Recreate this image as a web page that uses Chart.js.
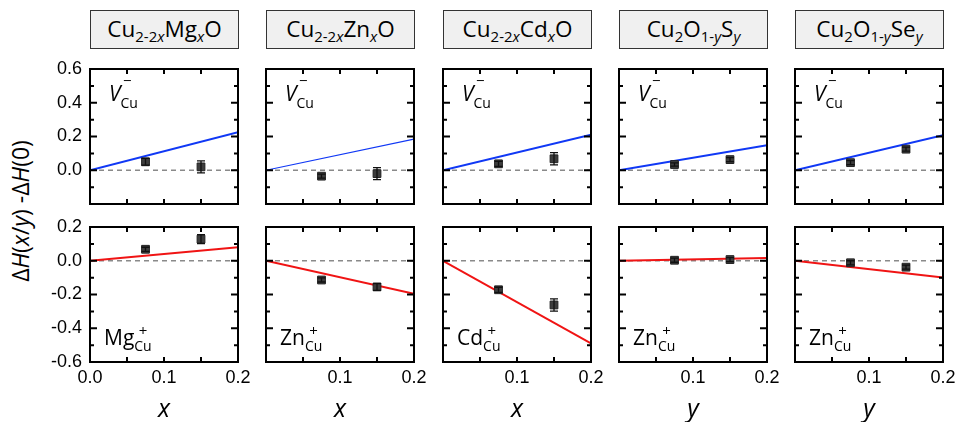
<!DOCTYPE html>
<html>
<head>
<meta charset="utf-8">
<script src="https://cdn.jsdelivr.net/npm/chart.js@4.4.0/dist/chart.umd.min.js"></script>
<style>
  body { margin: 0; width: 959px; height: 422px; background: #fff; position: relative; overflow: hidden; font-family: "Open Sans", sans-serif; color: #000; }
  canvas { position: absolute; }
  .title { position: absolute; top: 10px; width: 149px; height: 39px; box-sizing: border-box; border: 1px solid #333; background: #f0f0f0; font-size: 22.5px; line-height: 36px; text-align: center; white-space: nowrap; }
  .title .sb { font-size: 15px; vertical-align: -5px; line-height: 0; }
  .lbl { position: absolute; font-size: 21px; line-height: 21px; white-space: nowrap; }
  .sub { position: relative; font-size: 14px; line-height: 14px; }
  .sub.neg { vertical-align: -7px; }
  .sub.pos { vertical-align: -6px; }
  .sup { position: absolute; left: 50%; transform: translateX(-50%); font-size: 15px; line-height: 14px; }
  .neg .sup { top: -20px; margin-left: -2px; }
  .pos .sup { top: -13px; }
  .xt { position: absolute; top: 390px; width: 148px; text-align: center; font-size: 25px; font-style: italic; }
  .yt { position: absolute; left: 20px; top: 211px; transform: translate(-50%, -50%) rotate(-90deg); font-size: 23px; white-space: nowrap; }
</style>
</head>
<body>
<div class="yt">Δ<i>H</i>(<i>x</i>/<i>y</i>) -Δ<i>H</i>(0)</div>
<script>
// composition of each column
const titles = [
  'Cu<span class="sb">2-2<i>x</i></span>Mg<span class="sb"><i>x</i></span>O',
  'Cu<span class="sb">2-2<i>x</i></span>Zn<span class="sb"><i>x</i></span>O',
  'Cu<span class="sb">2-2<i>x</i></span>Cd<span class="sb"><i>x</i></span>O',
  'Cu<span class="sb">2</span>O<span class="sb">1-<i>y</i></span>S<span class="sb"><i>y</i></span>',
  'Cu<span class="sb">2</span>O<span class="sb">1-<i>y</i></span>Se<span class="sb"><i>y</i></span>',
];
const xNames = ['x', 'x', 'x', 'y', 'y'];
const dopants = ['Mg', 'Zn', 'Cd', 'Zn', 'Zn'];

// concentrations of the computed supercells and the span of the fitted line
const xPts = [0.075, 0.15];
const xEnds = [0, 0.2];

// V_Cu- row: line value at x = 0.2, points and error bars
const vcuLineEnd = [0.225, 0.185, 0.21, 0.148, 0.208];
const vcuPts = [[0.05, 0.02], [-0.035, -0.02], [0.038, 0.068], [0.034, 0.063], [0.045, 0.125]];
const vcuErr = [[0.02, 0.035], [0.012, 0.035], [0.015, 0.036], [0.01, 0.012], [0.012, 0.012]];

// dopant row
const dopLineEnd = [0.08, -0.195, -0.49, 0.016, -0.1];
const dopPts = [[0.068, 0.128], [-0.114, -0.155], [-0.172, -0.262], [0.003, 0.007], [-0.012, -0.038]];
const dopErr = [[0.012, 0.027], [0.012, 0.02], [0.015, 0.036], [0.012, 0.012], [0.012, 0.012]];

// axis ranges
const yRangeTop = [-0.2, 0.6];
const yRangeBot = [-0.6, 0.2];

const colLeft = [90, 266, 443, 619, 795];
const PW = 148, PH = 135;
const rowTop = [69, 227];
const PAD = 12, YW = 60, XH = 30, PR = 16;

const BLUE = '#1038f5';
const RED = '#f01414';
const tickFont = { family: '"Liberation Sans", Arial, sans-serif', size: 18 };

// inward ticks on all four sides plus the black frame
const framePlugin = {
  id: 'frame',
  afterDatasetsDraw(chart) {
    const { ctx, chartArea: a, scales: { x, y } } = chart;
    ctx.save();
    ctx.strokeStyle = '#000';
    ctx.lineWidth = 2;
    ctx.beginPath();
    for (let i = 0; i <= 4; i++) {
      const px = x.getPixelForValue(x.min + i * 0.05);
      ctx.moveTo(px, a.bottom); ctx.lineTo(px, a.bottom - 5);
      ctx.moveTo(px, a.top); ctx.lineTo(px, a.top + 5);
    }
    const n = Math.round((y.max - y.min) / 0.1);
    for (let j = 0; j <= n; j++) {
      const py = y.getPixelForValue(y.min + j * 0.1);
      const len = j % 2 ? 4 : 7;
      ctx.moveTo(a.left, py); ctx.lineTo(a.left + len, py);
      ctx.moveTo(a.right, py); ctx.lineTo(a.right - len, py);
    }
    ctx.stroke();
    ctx.strokeRect(a.left, a.top, a.width, a.height);
    ctx.restore();
  }
};

// vertical error bars with caps
const errorPlugin = {
  id: 'errbars',
  afterDatasetsDraw(chart) {
    const { ctx, scales: { x, y } } = chart;
    ctx.save();
    ctx.strokeStyle = '#111';
    ctx.lineWidth = 1.3;
    chart.data.datasets.forEach((ds) => {
      if (!ds.errors) return;
      ds.data.forEach((p, i) => {
        const px = x.getPixelForValue(p.x);
        const y1 = y.getPixelForValue(p.y - ds.errors[i]);
        const y2 = y.getPixelForValue(p.y + ds.errors[i]);
        ctx.beginPath();
        ctx.moveTo(px, y1); ctx.lineTo(px, y2);
        ctx.moveTo(px - 4, y1); ctx.lineTo(px + 4, y1);
        ctx.moveTo(px - 4, y2); ctx.lineTo(px + 4, y2);
        ctx.stroke();
      });
    });
    ctx.restore();
  }
};

function makeDatasets(lineEnd, pts, errs, color, width) {
  return [
    {
      data: xPts.map((x, i) => ({ x: x, y: pts[i] })),
      errors: errs,
      showLine: false,
      pointStyle: 'rect',
      pointRadius: 5.5,
      backgroundColor: '#3d3d3d',
      borderColor: '#222',
      borderWidth: 1,
      order: 0,
    },
    {
      data: [{ x: xEnds[0], y: 0 }, { x: xEnds[1], y: lineEnd }],
      showLine: true,
      borderColor: color,
      borderWidth: width,
      pointRadius: 0,
      order: 1,
    },
    {
      data: [{ x: xEnds[0], y: 0 }, { x: xEnds[1], y: 0 }],
      showLine: true,
      borderColor: '#8a8a8a',
      borderDash: [5, 4],
      borderWidth: 1.6,
      pointRadius: 0,
      order: 2,
    },
  ];
}

function makePanel(row, col) {
  const cv = document.createElement('canvas');
  const w = YW + PW + PR;
  const h = row === 0 ? PAD + PH + PAD : PAD + PH + XH;
  cv.width = w; cv.height = h;
  cv.style.left = (colLeft[col] - YW) + 'px';
  cv.style.top = (rowTop[row] - PAD) + 'px';
  document.body.appendChild(cv);

  const range = row === 0 ? yRangeTop : yRangeBot;
  const datasets = row === 0
    ? makeDatasets(vcuLineEnd[col], vcuPts[col], vcuErr[col], BLUE, col === 1 ? 1.2 : 2)
    : makeDatasets(dopLineEnd[col], dopPts[col], dopErr[col], RED, 2);

  new Chart(cv.getContext('2d'), {
    type: 'scatter',
    data: { datasets: datasets },
    options: {
      responsive: false,
      animation: false,
      events: [],
      layout: { padding: { left: 0, right: PR, top: PAD, bottom: row === 0 ? PAD : 0 } },
      plugins: { legend: { display: false }, tooltip: { enabled: false } },
      scales: {
        x: {
          type: 'linear', min: 0, max: 0.2,
          display: row === 1,
          grid: { display: false, drawTicks: false },
          border: { display: false },
          ticks: {
            stepSize: 0.1, padding: 5, color: '#000', font: tickFont, maxRotation: 0, autoSkip: false,
            callback: (v) => (col > 0 && Math.abs(v) < 1e-9) ? '' : v.toFixed(1),
          },
          afterFit: (s) => {
            s.height = row === 1 ? XH : 0;
            s.paddingLeft = 0; s.paddingRight = 0;
          },
        },
        y: {
          type: 'linear', min: range[0], max: range[1],
          grid: { display: false, drawTicks: false },
          border: { display: false },
          ticks: {
            stepSize: 0.2, padding: 8, color: '#000', font: tickFont, autoSkip: false,
            callback: (v) => {
              if (col > 0) return '';
              if (row === 0 && v < -0.1) return '';
              return Math.abs(v) < 1e-9 ? '0.0' : v.toFixed(1);
            },
          },
          afterFit: (s) => {
            s.width = YW;
            s.paddingTop = 0; s.paddingBottom = 0;
          },
        },
      },
    },
    plugins: [errorPlugin, framePlugin],
  });
}

for (let c = 0; c < 5; c++) {
  makePanel(0, c);
  makePanel(1, c);

  const t = document.createElement('div');
  t.className = 'title';
  t.style.left = colLeft[c] + 'px';
  t.innerHTML = titles[c];
  document.body.appendChild(t);

  const a = document.createElement('div');
  a.className = 'lbl';
  a.style.left = (colLeft[c] + 19) + 'px';
  a.style.top = '83px';
  a.innerHTML = '<i>V</i><span class="sub neg">Cu<span class="sup">−</span></span>';
  document.body.appendChild(a);

  const b = document.createElement('div');
  b.className = 'lbl';
  b.style.left = (colLeft[c] + 14) + 'px';
  b.style.top = '327px';
  b.innerHTML = dopants[c] + '<span class="sub pos">Cu<span class="sup">+</span></span>';
  document.body.appendChild(b);

  const xt = document.createElement('div');
  xt.className = 'xt';
  xt.style.left = colLeft[c] + 'px';
  xt.textContent = xNames[c];
  document.body.appendChild(xt);
}
</script>
</body>
</html>
